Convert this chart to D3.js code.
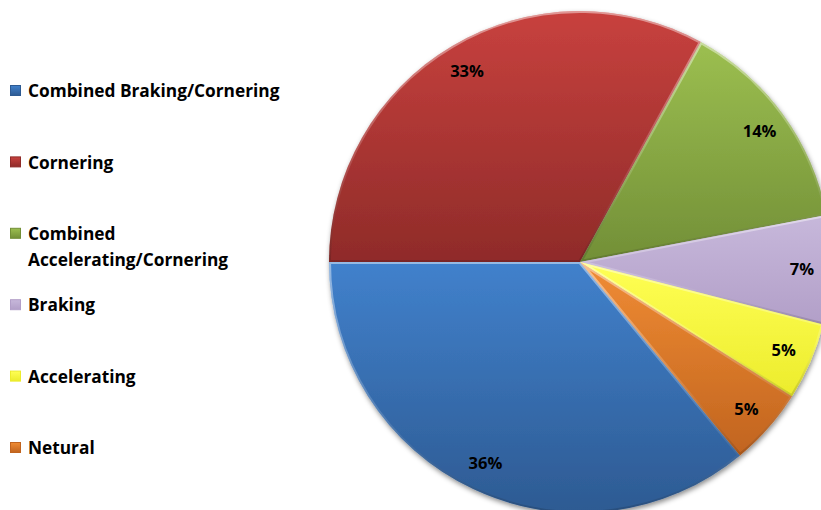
<!DOCTYPE html>
<html>
<head>
<meta charset="utf-8">
<script src="https://cdn.jsdelivr.net/npm/d3@7"></script>
<style>
  html, body { margin: 0; padding: 0; background: #ffffff; }
  svg { display: block; }
  text { font-family: "Open Sans", "DejaVu Sans", sans-serif; font-weight: 700; fill: #000; }
</style>
</head>
<body>
<svg id="chart" width="821" height="510"></svg>
<script>
// Share of manoeuvre types (percent)
const categories = [
  "Combined Braking/Cornering",
  "Cornering",
  "Combined Accelerating/Cornering",
  "Braking",
  "Accelerating",
  "Netural"
];
const values = [36, 33, 14, 7, 5, 5];
// Legend text, split into display lines
const legendLines = [
  ["Combined Braking/Cornering"],
  ["Cornering"],
  ["Combined", "Accelerating/Cornering"],
  ["Braking"],
  ["Accelerating"],
  ["Netural"]
];
// Light (top) and dark (bottom) tone of each slice
const colorsLight = ["#4181cc", "#c8413e", "#9cbf50", "#c7b8db", "#ffff55", "#f08c34"];
const colorsDark  = ["#2d5a92", "#8f2b29", "#728f37", "#b29fc8", "#ecec2c", "#c1641f"];

const width = 821, height = 510;
const cx = 580, cy = 262, radius = 251;

const svg = d3.select("#chart");
const defs = svg.append("defs");

// Fill gradients, one per category
categories.forEach((c, i) => {
  const g = defs.append("linearGradient")
    .attr("id", "fill" + i)
    .attr("x1", 0).attr("y1", 0).attr("x2", 0).attr("y2", 1);
  g.append("stop").attr("offset", "0%").attr("stop-color", colorsLight[i]);
  g.append("stop").attr("offset", "100%").attr("stop-color", colorsDark[i]);
});

// Bevel stroke: light on top edges, darker on bottom edges
const bevel = defs.append("linearGradient")
  .attr("id", "bevel")
  .attr("x1", 0).attr("y1", 0).attr("x2", 0).attr("y2", 1);
bevel.append("stop").attr("offset", "0%").attr("stop-color", "#ffffff").attr("stop-opacity", 0.45);
bevel.append("stop").attr("offset", "60%").attr("stop-color", "#ffffff").attr("stop-opacity", 0.15);
bevel.append("stop").attr("offset", "100%").attr("stop-color", "#000000").attr("stop-opacity", 0.15);

// Soft shadow under the pie
const shadow = defs.append("filter")
  .attr("id", "shadow")
  .attr("x", "-10%").attr("y", "-10%").attr("width", "120%").attr("height", "120%");
shadow.append("feDropShadow")
  .attr("dx", 1).attr("dy", 2.5)
  .attr("stdDeviation", 2.5)
  .attr("flood-color", "#000")
  .attr("flood-opacity", 0.45);

const data = categories.map((c, i) => ({ name: c, value: values[i], index: i }));

// First slice starts so that it ends exactly at the 9 o'clock position
const total = d3.sum(values);
const startAngle = 1.5 * Math.PI - (values[0] / total) * 2 * Math.PI;

const pie = d3.pie()
  .value(d => d.value)
  .sort(null)
  .startAngle(startAngle)
  .endAngle(startAngle + 2 * Math.PI);

const arcs = pie(data);
const arc = d3.arc().innerRadius(0).outerRadius(radius);
const labelArc = d3.arc().innerRadius(222).outerRadius(222);

const pieG = svg.append("g")
  .attr("transform", `translate(${cx},${cy})`);

const shadowG = pieG.append("g").attr("filter", "url(#shadow)");

shadowG.selectAll("path.slice")
  .data(arcs)
  .join("path")
  .attr("class", "slice")
  .attr("d", arc)
  .attr("fill", d => `url(#fill${d.data.index})`);

// Clip paths (in the pie group's coordinates) keep the bevel inside each slice
arcs.forEach((d, i) => {
  defs.append("clipPath")
    .attr("id", "clip" + i)
    .append("path")
    .attr("d", arc(d));
});

pieG.append("g").selectAll("path.bevel")
  .data(arcs)
  .join("path")
  .attr("class", "bevel")
  .attr("clip-path", (d, i) => `url(#clip${i})`)
  .attr("d", arc)
  .attr("fill", "none")
  .attr("stroke", "url(#bevel)")
  .attr("stroke-width", 4);

// Percentage labels
pieG.selectAll("text.pct")
  .data(arcs)
  .join("text")
  .attr("class", "pct")
  .attr("transform", d => `translate(${labelArc.centroid(d)})`)
  .attr("text-anchor", "middle")
  .attr("dy", "0.36em")
  .attr("font-size", 16.5)
  .text(d => d3.format(".0%")(d.data.value / total));

// Legend
const legendTop = 91, legendStep = 71.4, lineHeight = 26;
const legend = svg.append("g").attr("class", "legend");
const items = legend.selectAll("g.item")
  .data(data)
  .join("g")
  .attr("class", "item")
  .attr("transform", (d, i) => `translate(10,${legendTop + i * legendStep})`);

items.append("rect")
  .attr("x", 0.5).attr("y", -5.5)
  .attr("width", 10).attr("height", 10)
  .attr("fill", d => `url(#fill${d.index})`)
  .attr("stroke", d => colorsDark[d.index])
  .attr("stroke-width", 1);

items.each(function(d) {
  const t = d3.select(this).append("text")
    .attr("x", 18)
    .attr("y", 0)
    .attr("font-size", 17.3);
  legendLines[d.index].forEach((line, j) => {
    t.append("tspan")
      .attr("x", 18)
      .attr("dy", j === 0 ? "0.36em" : lineHeight)
      .text(line);
  });
});
</script>
</body>
</html>
